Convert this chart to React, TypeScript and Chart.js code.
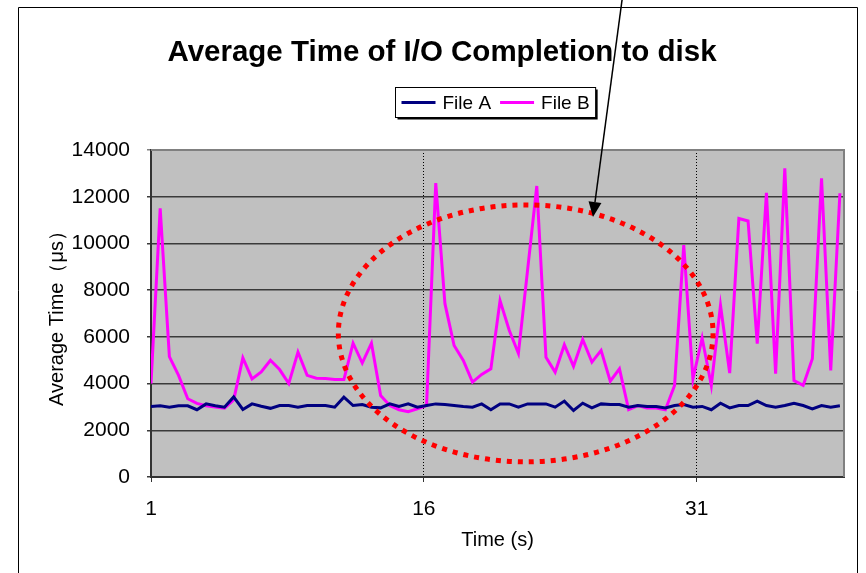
import React, { useEffect, useRef } from 'react';
import { Chart, registerables } from 'chart.js';

Chart.register(...registerables);

// ---- text ----
const TITLE = 'Average Time of I/O Completion to disk';
const X_TITLE = 'Time (s)';
const Y_TITLE = 'Average Time（μs）';
const SERIES_NAMES = ['File A', 'File B'];

// ---- data (one sample about every 0.5 s) ----
const FILE_A = [
  3020, 3050, 2990, 3050, 3050, 2880, 3130, 3050, 2990, 3430,
  2890, 3130, 3030, 2940, 3060, 3060, 2990, 3060, 3060, 3060,
  2990, 3420, 3060, 3100, 2990, 2960, 3130, 3020, 3130, 2990,
  3060, 3130, 3100, 3060, 3020, 2990, 3130, 2880, 3130, 3130,
  2990, 3130, 3130, 3130, 2990, 3250, 2850, 3160, 2960, 3130,
  3100, 3100, 2990, 3060, 3020, 3020, 2960, 3060, 3100, 2990,
  3020, 2880, 3160, 2960, 3060, 3060, 3250, 3060, 2990, 3060,
  3160, 3060, 2920, 3060, 2990, 3050,
];
const FILE_B = [
  4000, 11500, 5150, 4350, 3350, 3150, 3050, 3000, 2950, 3300,
  5100, 4200, 4500, 5000, 4600, 4000, 5350, 4350, 4230, 4220,
  4170, 4170, 5730, 4880, 5730, 3490, 3060, 2880, 2800, 2920,
  3060, 12580, 7420, 5630, 4990, 4060, 4390, 4630, 7550, 6280,
  5290, 8870, 12460, 5130, 4490, 5660, 4740, 5890, 4920, 5420,
  4100, 4630, 2880, 3060, 2950, 2950, 2880, 3920, 9930, 4200,
  5950, 3920, 7350, 4450, 11070, 10960, 5710, 12170, 4420, 13220,
  4130, 3920, 5060, 12790, 4560, 12150,
];
const FIRST_SAMPLE_S = 1;
const SAMPLE_PERIOD_S = 0.505;

// ---- axes ----
const X_TICKS = [1, 16, 31];
const X_MIN = 1;
const X_MAX = 39.1;
const Y_MIN = 0;
const Y_MAX = 14000;
const Y_STEP = 2000;

// ---- annotations (data units) ----
const ELLIPSE = { cx: 21.6, cy: 6150, rx: 10.3, ry: 5500 };
const ARROW = { fromX: 26.9, fromY: 20440, toX: 25.3, toY: 11130 };

const NARROW = '"Liberation Sans", Arial, sans-serif';
const BOLD_FONT = '"Liberation Sans", Arial, sans-serif';

const framePlugin = {
  id: 'frame',
  beforeDraw(chart: any) {
    const { ctx, chartArea: a } = chart;
    ctx.save();
    ctx.fillStyle = '#ffffff';
    ctx.fillRect(0, 0, chart.width, chart.height);
    // outer frame
    ctx.strokeStyle = '#000';
    ctx.lineWidth = 1;
    ctx.beginPath();
    ctx.moveTo(18.5, chart.height + 5);
    ctx.lineTo(18.5, 7.5);
    ctx.lineTo(857.5, 7.5);
    ctx.lineTo(857.5, chart.height + 5);
    ctx.stroke();
    // plot background
    ctx.fillStyle = '#C0C0C0';
    ctx.fillRect(a.left, a.top, a.right - a.left, a.bottom - a.top);
    ctx.restore();
  },
  beforeDatasetsDraw(chart: any) {
    const { ctx, chartArea: a } = chart;
    ctx.save();
    ctx.strokeStyle = '#808080';
    ctx.lineWidth = 2;
    ctx.beginPath();
    ctx.moveTo(a.left, a.top);
    ctx.lineTo(a.right, a.top);
    ctx.lineTo(a.right, a.bottom);
    ctx.stroke();
    ctx.restore();
  },
  afterDraw(chart: any) {
    const { ctx, chartArea: a } = chart;
    const xs = chart.scales.x;
    const ys = chart.scales.y;
    ctx.save();
    // legend
    ctx.font = '19px ' + NARROW;
    ctx.textBaseline = 'middle';
    ctx.textAlign = 'left';
    const lineLen = 34, gapLT = 7, gapItems = 9, padX = 6;
    const ds = chart.data.datasets;
    const widths = ds.map((d: any) => ctx.measureText(d.label).width);
    let total = padX * 2 + gapItems * (ds.length - 1);
    widths.forEach((w: number) => (total += lineLen + gapLT + w));
    const cx = (a.left + a.right) / 2 - 2;
    const lx = Math.round(cx - total / 2) + 0.5;
    const ly = 87.5;
    const lh = 30;
    ctx.fillStyle = '#000';
    ctx.fillRect(lx + 2, ly + 2, total, lh);
    ctx.fillStyle = '#fff';
    ctx.fillRect(lx, ly, total, lh);
    ctx.strokeStyle = '#000';
    ctx.lineWidth = 1;
    ctx.strokeRect(lx, ly, total, lh);
    let px = lx + padX;
    const midY = ly + lh / 2;
    ds.forEach((d: any, i: number) => {
      ctx.strokeStyle = d.borderColor;
      ctx.lineWidth = 3;
      ctx.beginPath();
      ctx.moveTo(px, midY);
      ctx.lineTo(px + lineLen, midY);
      ctx.stroke();
      px += lineLen + gapLT;
      ctx.fillStyle = '#000';
      ctx.fillText(d.label, px, midY + 1);
      px += widths[i] + gapItems;
    });

    // dotted ellipse
    const ecx = xs.getPixelForValue(ELLIPSE.cx);
    const ecy = ys.getPixelForValue(ELLIPSE.cy);
    const erx = xs.getPixelForValue(ELLIPSE.cx + ELLIPSE.rx) - ecx;
    const ery = ecy - ys.getPixelForValue(ELLIPSE.cy + ELLIPSE.ry);
    ctx.strokeStyle = '#FF0000';
    ctx.lineWidth = 5;
    ctx.setLineDash([5, 6]);
    ctx.beginPath();
    ctx.ellipse(ecx, ecy, erx, ery, 0, 0, Math.PI * 2);
    ctx.stroke();
    ctx.setLineDash([]);

    // arrow
    const x1 = xs.getPixelForValue(ARROW.fromX);
    const y1 = ys.getPixelForValue(ARROW.fromY);
    const x2 = xs.getPixelForValue(ARROW.toX);
    const y2 = ys.getPixelForValue(ARROW.toY);
    const ang = Math.atan2(y2 - y1, x2 - x1);
    const headLen = 15, headW = 6.5;
    const bx = x2 - headLen * Math.cos(ang);
    const by = y2 - headLen * Math.sin(ang);
    ctx.strokeStyle = '#000';
    ctx.lineWidth = 1.5;
    ctx.beginPath();
    ctx.moveTo(x1, y1);
    ctx.lineTo(bx, by);
    ctx.stroke();
    ctx.fillStyle = '#000';
    ctx.beginPath();
    ctx.moveTo(x2, y2);
    ctx.lineTo(bx + headW * Math.sin(ang), by - headW * Math.cos(ang));
    ctx.lineTo(bx - headW * Math.sin(ang), by + headW * Math.cos(ang));
    ctx.closePath();
    ctx.fill();
    ctx.restore();
  },
};

export default function App() {
  const ref = useRef<HTMLCanvasElement | null>(null);

  useEffect(() => {
    if (!ref.current) return;
    const toPoints = (vals: number[]) =>
      vals.map((v, i) => ({ x: FIRST_SAMPLE_S + i * SAMPLE_PERIOD_S, y: v }));

    const chart = new Chart(ref.current, {
      type: 'line',
      data: {
        datasets: [
          {
            label: SERIES_NAMES[0],
            data: toPoints(FILE_A),
            borderColor: '#000080',
            backgroundColor: '#000080',
            borderWidth: 3,
            pointRadius: 0,
            tension: 0,
          },
          {
            label: SERIES_NAMES[1],
            data: toPoints(FILE_B),
            borderColor: '#FF00FF',
            backgroundColor: '#FF00FF',
            borderWidth: 3,
            pointRadius: 0,
            tension: 0,
          },
        ],
      },
      options: {
        animation: false,
        responsive: false,
        devicePixelRatio: 1,
        layout: { padding: { left: 40, right: 22, top: 0, bottom: 0 } },
        plugins: {
          legend: { display: false },
          tooltip: { enabled: false },
          title: {
            display: true,
            text: TITLE,
            color: '#000',
            font: { family: BOLD_FONT, size: 29.5, weight: 'bold' },
            padding: { top: 35, bottom: 79.6 },
          },
        },
        scales: {
          x: {
            type: 'linear',
            min: X_MIN,
            max: X_MAX,
            afterBuildTicks: (scale: any) => {
              scale.ticks = X_TICKS.map((v) => ({ value: v }));
            },
            afterFit: (scale: any) => {
              scale.height = 96;
            },
            grid: {
              color: (c: any) => (c.tick && c.tick.value === X_MIN ? 'rgba(0,0,0,0)' : '#000'),
              lineWidth: 1,
              drawTicks: true,
              tickLength: 5,
              tickColor: '#333',
              tickBorderDash: [],
            },
            border: { display: true, color: '#333', width: 2, dash: [1, 2] },
            ticks: {
              color: '#000',
              font: { family: NARROW, size: 21 },
              padding: 15,
              maxRotation: 0,
              autoSkip: false,
              callback: (v: any) => String(v),
            },
            title: {
              display: true,
              text: X_TITLE,
              color: '#000',
              font: { family: NARROW, size: 20 },
              padding: { top: 0, bottom: 21 },
            },
          },
          y: {
            min: Y_MIN,
            max: Y_MAX,
            afterFit: (scale: any) => {
              scale.width = 111;
            },
            grid: {
              color: (c: any) => (c.tick && c.tick.value === Y_MAX ? '#808080' : '#3a3a3a'),
              lineWidth: 1.5,
              drawTicks: true,
              tickLength: 4,
            },
            border: { display: true, color: '#333', width: 2 },
            ticks: {
              stepSize: Y_STEP,
              color: '#000',
              font: { family: NARROW, size: 21 },
              padding: 17,
              callback: (v: any) => String(v),
            },
            title: {
              display: true,
              text: Y_TITLE,
              color: '#000',
              font: { family: NARROW, size: 20 },
              padding: { top: 5, bottom: 0 },
            },
          },
        },
      },
      plugins: [framePlugin],
    } as any);
    return () => chart.destroy();
  }, []);

  return (
    <div style={{ position: 'fixed', left: 0, top: 0, width: 866, height: 573 }}>
      <canvas ref={ref} width={866} height={573} style={{ display: 'block' }} />
    </div>
  );
}
